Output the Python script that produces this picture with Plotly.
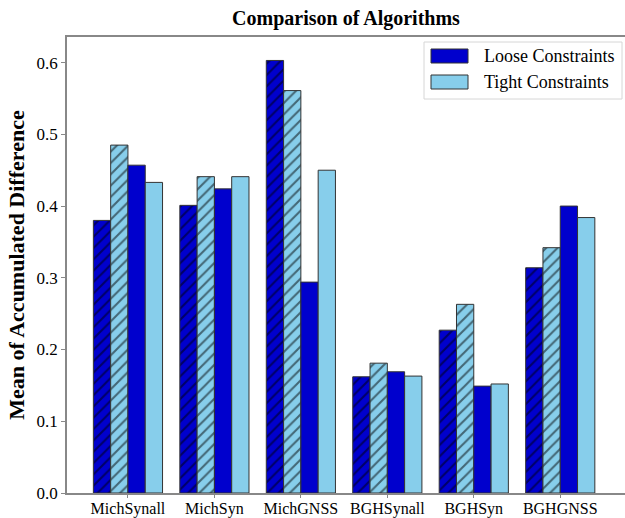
import plotly.graph_objects as go

# Algorithms compared (x-axis groups)
algorithms = ["MichSynall", "MichSyn", "MichGNSS", "BGHSynall", "BGHSyn", "BGHGNSS"]

# Mean accumulated difference per algorithm, hatched pair then solid pair
hatched_loose = [0.380, 0.401, 0.603, 0.162, 0.227, 0.314]
hatched_tight = [0.485, 0.441, 0.561, 0.181, 0.263, 0.342]
solid_loose = [0.457, 0.424, 0.294, 0.169, 0.149, 0.400]
solid_tight = [0.433, 0.441, 0.450, 0.163, 0.152, 0.384]

y_ticks = [0.0, 0.1, 0.2, 0.3, 0.4, 0.5, 0.6]
legend_labels = ["Loose Constraints", "Tight Constraints"]

LOOSE = "#0000CD"
TIGHT = "#87CEEB"
EDGE = "#333333"
AXIS = "#888888"
FONT = "Liberation Serif"

W, H = 625, 518
ML, MR, MT, MB = 67, 0, 37, 25

xpos = list(range(len(algorithms)))

fig = go.Figure()


def add_bars(values, color, hatch, name):
    pattern = dict(shape="/", fgcolor="black", bgcolor=color, size=8, solidity=0.26) if hatch else dict(shape="")
    fig.add_trace(go.Bar(
        x=xpos, y=values, name=name, showlegend=False,
        marker=dict(color=color, line=dict(color=EDGE, width=1), pattern=pattern),
    ))


add_bars(hatched_loose, LOOSE, True, legend_labels[0])
add_bars(hatched_tight, TIGHT, True, legend_labels[1])
add_bars(solid_loose, LOOSE, False, legend_labels[0])
add_bars(solid_tight, TIGHT, False, legend_labels[1])


# Legend box drawn in pixel space of the plotting area
def px(x):
    return (x - ML) / (W - ML - MR)


def py(y):
    return (H - MB - y) / (H - MT - MB)


shapes = [dict(type="rect", xref="paper", yref="paper",
               x0=px(424), x1=px(622), y0=py(99), y1=py(42),
               line=dict(color="#d6d6d6", width=1), fillcolor="white", layer="above")]
annotations = []
for i, (label, color) in enumerate(zip(legend_labels, [LOOSE, TIGHT])):
    top = 49 + 26 * i
    shapes.append(dict(type="rect", xref="paper", yref="paper",
                       x0=px(431), x1=px(468), y0=py(top + 14), y1=py(top),
                       line=dict(color=EDGE, width=1), fillcolor=color, layer="above"))
    annotations.append(dict(xref="paper", yref="paper", x=px(482), y=py(top + 7),
                            xanchor="left", yanchor="middle", showarrow=False,
                            text=label, font=dict(family=FONT, size=18, color="black")))

fig.update_layout(
    width=W, height=H,
    margin=dict(l=ML, r=MR, t=MT, b=MB, autoexpand=False),
    paper_bgcolor="white", plot_bgcolor="white",
    barmode="group", bargap=0.2, bargroupgap=0,
    font=dict(family=FONT, size=17, color="black"),
    showlegend=False,
    title=dict(text="<b>Comparison of Algorithms</b>", xref="paper", x=0.5, xanchor="center",
               yref="container", y=1 - 18 / H, yanchor="middle", font=dict(family=FONT, size=20)),
    shapes=shapes,
    annotations=annotations,
    xaxis=dict(range=[-0.705, 5.749], tickmode="array", tickvals=xpos, ticktext=algorithms,
               tickangle=0, automargin=False, ticklabelstandoff=-3,
               showgrid=False, zeroline=False, showline=True, linecolor=AXIS, linewidth=1.5,
               mirror=True, ticks="outside", ticklen=3, tickcolor=AXIS,
               tickfont=dict(family=FONT, size=16)),
    yaxis=dict(range=[0, 0.6357], tickmode="array", tickvals=y_ticks,
               ticktext=[f"{v:.1f}" for v in y_ticks], automargin=False,
               showgrid=False, zeroline=False, showline=True, linecolor=AXIS, linewidth=1.5,
               mirror=False, ticks="outside", ticklen=4, tickcolor=AXIS,
               tickfont=dict(family=FONT, size=17),
               title=dict(text="<b>Mean of Accumulated Difference</b>",
                          font=dict(family=FONT, size=22), standoff=6)),
)

fig.write_html("out.html")
